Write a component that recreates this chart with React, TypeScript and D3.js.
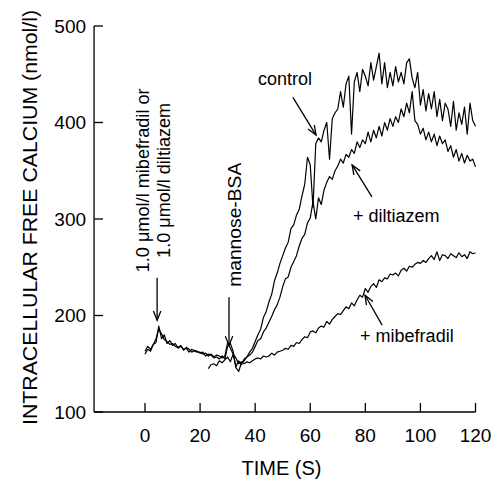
import React from 'react';
import {scaleLinear, line} from 'd3';

// mibefradil trace, one value per second from t = 0
const mibefradilValues = [
  160, 165, 163, 170, 172, 189, 176, 180, 171, 174,
  169, 171, 166, 168, 165, 166, 162, 165, 163, 162,
  162, 160, 161, 158, 160, 157, 159, 158, 156, 158,
  172, 166, 160, 156, 150, 152, 150, 152, 151, 153,
  155, 156, 155, 158, 157, 158, 161, 159, 162, 163,
  164, 166, 165, 169, 168, 172, 171, 175, 178, 177,
  183, 184, 182, 187, 189, 188, 194, 191, 196, 199,
  202, 201, 205, 209, 207, 213, 210, 216, 221, 219,
  228, 224, 230, 233, 229, 237, 235, 239, 238, 243,
  242, 244, 241, 247, 249, 246, 251, 250, 253, 255,
  254, 257, 255, 259, 262, 258, 266, 257, 263, 262,
  259, 264, 262, 260, 265, 261, 263, 259, 266, 264,
  265,
];
const mibefradilStart = 0;

// diltiazem trace, one value per second from t = 0
const diltiazemValues = [
  163, 168, 165, 170, 176, 186, 181, 175, 173, 170,
  171, 168, 167, 169, 164, 167, 165, 162, 164, 163,
  161, 162, 158, 160, 159, 156, 157, 155, 158, 155,
  168, 171, 163, 146, 142, 151, 153, 157, 159, 162,
  168, 174, 176, 183, 187, 193, 199, 206, 211, 219,
  230, 238, 240, 250, 256, 262, 272, 280, 284, 296,
  301, 318, 300, 322, 315, 330, 338, 344, 341, 350,
  355, 362, 358, 367, 364, 372, 368, 380, 374, 382,
  378, 390, 380, 392, 384, 396, 386, 400, 392, 404,
  396, 406, 400, 414, 406, 420, 410, 432, 402, 398,
  388, 394, 382, 390, 380, 388, 376, 386, 378, 382,
  370, 376, 364, 372, 360, 368, 358, 366, 360, 362,
  354,
];
const diltiazemStart = 0;

// control trace, one value per second from t = 23
const controlValues = [
  145, 149, 150, 148, 153, 151, 154,
  157, 152, 160, 147, 153, 149, 155, 157, 162, 166,
  173, 180, 186, 198, 204, 214, 222, 236, 244, 254,
  262, 270, 276, 290, 294, 304, 310, 324, 336, 364,
  356, 312, 378, 384, 380, 392, 400, 362, 404, 410,
  414, 432, 416, 440, 448, 388, 442, 452, 432, 455,
  448, 438, 462, 444, 458, 472, 440, 462, 436, 452,
  438, 458, 442, 452, 440, 462, 466, 446, 436, 452,
  418, 434, 412, 430, 414, 432, 406, 424, 402, 420,
  414, 396, 422, 392, 410, 398, 416, 388, 420, 402,
  396,
];
const controlStart = 23;

const xTicks = [0, 20, 40, 60, 80, 100, 120];
const yTicks = [100, 200, 300, 400, 500];

// arrows: [fromTime, fromValue, toTime, toValue]
const arrows = [
  [4.4, 239, 4.4, 195],
  [30.5, 219, 30.5, 169],
  [53.7, 426, 62.1, 387],
  [82.4, 323, 75.2, 356],
  [86.1, 190, 79.9, 221],
];

const width = 497;
const height = 479;
const font = 'Liberation Sans, Arial, Helvetica, sans-serif';

const xScale = scaleLinear().domain([0, 120]).range([145, 475.5]);
const yScale = scaleLinear().domain([100, 500]).range([412, 26]);
const x0 = xScale(-18.5);

function toPoints(values: number[], start: number): [number, number][] {
  return values.map((v, i) => [start + i, v]);
}

const series = [
  toPoints(mibefradilValues, mibefradilStart),
  toPoints(diltiazemValues, diltiazemStart),
  toPoints(controlValues, controlStart),
];

const linePath = line<[number, number]>()
  .x((d) => xScale(d[0]))
  .y((d) => yScale(d[1]));

function Arrow({a}: {a: number[]}) {
  const x1 = xScale(a[0]);
  const y1 = yScale(a[1]);
  const x2 = xScale(a[2]);
  const y2 = yScale(a[3]);
  const ang = Math.atan2(y2 - y1, x2 - x1);
  const len = 10;
  const spread = 0.38;
  const hx1 = x2 - len * Math.cos(ang - spread);
  const hy1 = y2 - len * Math.sin(ang - spread);
  const hx2 = x2 - len * Math.cos(ang + spread);
  const hy2 = y2 - len * Math.sin(ang + spread);
  return (
    <g stroke="black" strokeWidth={1.3} fill="none">
      <line x1={x1} y1={y1} x2={x2} y2={y2} />
      <path d={`M${hx1},${hy1}L${x2},${y2}L${hx2},${hy2}`} />
    </g>
  );
}

function rotated(t: number, v: number, label: string, len?: number) {
  const x = xScale(t);
  const y = yScale(v);
  return (
    <text
      transform={`translate(${x},${y}) rotate(-90)`}
      textAnchor="middle"
      fontSize={18}
      textLength={len}
      lengthAdjust={len ? 'spacingAndGlyphs' : undefined}
    >{label}</text>
  );
}

export default function App() {
  return (
    <svg
      width={width}
      height={height}
      style={{position: 'absolute', left: 0, top: 0, background: 'white'}}
      fontFamily={font}
    >
      {/* axes */}
      <line x1={x0} y1={yScale(100)} x2={xScale(120)} y2={yScale(100)} stroke="black" strokeWidth={1.3} />
      <line x1={x0} y1={yScale(100)} x2={x0} y2={yScale(500)} stroke="black" strokeWidth={1.3} />
      {xTicks.map((t) => (
        <g key={t}>
          <line x1={xScale(t)} x2={xScale(t)} y1={yScale(100)} y2={yScale(100) - 9} stroke="black" strokeWidth={1.3} />
          <text x={xScale(t)} y={442} textAnchor="middle" fontSize={19}>{t}</text>
        </g>
      ))}
      {yTicks.map((v) => (
        <g key={v}>
          <line x1={x0} x2={x0 + 9} y1={yScale(v)} y2={yScale(v)} stroke="black" strokeWidth={1.3} />
          <text x={x0 - 8} y={yScale(v)} dy="0.36em" textAnchor="end" fontSize={19}>{v}</text>
        </g>
      ))}
      <text x={281.5} y={475} textAnchor="middle" fontSize={20}>TIME (S)</text>
      <text
        transform="translate(37,217.5) rotate(-90)"
        textAnchor="middle"
        fontSize={20}
        textLength={415}
        lengthAdjust="spacingAndGlyphs"
      >INTRACELLULAR FREE CALCIUM (nmol/l)</text>

      {/* traces */}
      {series.map((s, i) => (
        <path key={i} d={linePath(s) ?? ''} fill="none" stroke="black" strokeWidth={1.2} strokeLinejoin="round" />
      ))}

      {/* annotations */}
      {rotated(1.45, 340, '1.0 \u03bcmol/l mibefradil or', 184)}
      {rotated(9.1, 340, '1.0 \u03bcmol/l diltiazem', 155)}
      {rotated(34.9, 294, 'mannose-BSA', 124)}
      <text x={xScale(41)} y={yScale(439)} fontSize={18}>control</text>
      <text x={xScale(75.5)} y={yScale(297)} fontSize={18}>+ diltiazem</text>
      <text x={xScale(78.1)} y={yScale(172.5)} fontSize={18}>+ mibefradil</text>
      {arrows.map((a, i) => <Arrow key={i} a={a} />)}
    </svg>
  );
}
